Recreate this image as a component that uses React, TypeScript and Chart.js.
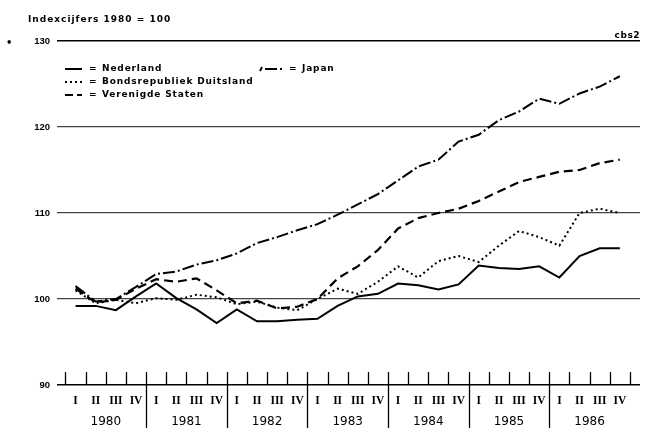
import React, { useEffect, useRef } from "react";
import { Chart, registerables } from "chart.js";

Chart.register(...registerables);

const quarterLabels = ["I", "II", "III", "IV"];
const yearLabels = ["1980", "1981", "1982", "1983", "1984", "1985", "1986"];
const yTickValues = [90, 100, 110, 120, 130];

const nederland = [
  99.2, 99.2, 98.7, 100.3,
  101.8, 100.1, 98.8, 97.2,
  98.8, 97.4, 97.4, 97.6,
  97.7, 99.2, 100.3, 100.6,
  101.8, 101.6, 101.1, 101.7,
  103.9, 103.6, 103.5, 103.8,
  102.5, 105.0, 105.9, 105.9,
];
const japan = [
  101.5, 99.7, 100.0, 101.4,
  102.9, 103.2, 104.0, 104.5,
  105.3, 106.5, 107.2, 108.0,
  108.7, 109.8, 111.0, 112.2,
  113.8, 115.4, 116.2, 118.3,
  119.1, 120.8, 121.8, 123.3,
  122.7, 123.9, 124.7, 125.9,
];
const duitsland = [
  101.0, 99.5, 99.9, 99.5,
  100.1, 99.9, 100.5, 100.2,
  99.4, 99.7, 99.0, 98.7,
  100.0, 101.2, 100.6, 102.0,
  103.8, 102.5, 104.4, 105.0,
  104.3, 106.2, 107.9, 107.2,
  106.2, 110.0, 110.5, 110.0,
];
const verenigdeStaten = [
  101.2, 99.6, 99.9, 101.2,
  102.3, 102.0, 102.4, 101.0,
  99.5, 99.8, 98.9, 99.1,
  100.0, 102.4, 103.8, 105.7,
  108.2, 109.4, 110.0, 110.5,
  111.4, 112.5, 113.6, 114.2,
  114.8, 115.0, 115.8, 116.2,
];

const seriesNames = ["Nederland", "Japan", "Bondsrepubliek Duitsland", "Verenigde Staten"];

const toPoints = (arr: number[]) => arr.map((v, i) => ({ x: i, y: v }));

export default function App() {
  const ref = useRef<HTMLCanvasElement>(null);

  useEffect(() => {
    const canvas = ref.current;
    if (!canvas) return;

    const decor = {
      id: "decor",
      afterDraw(chart: any) {
        const ctx = chart.ctx as any;
        const xs = chart.scales.x;
        const ys = chart.scales.y;
        const yA = ys.getPixelForValue(90);
        ctx.save();
        ctx.strokeStyle = "#000";
        ctx.fillStyle = "#000";
        ctx.lineWidth = 1.3;
        // quarter ticks and year separators
        for (let j = 0; j <= 28; j++) {
          const px = Math.round(xs.getPixelForValue(j - 0.5)) + 0.5;
          const sep = j % 4 === 0 && j > 0 && j < 28;
          ctx.beginPath();
          ctx.moveTo(px, yA - 13);
          ctx.lineTo(px, sep ? 430 : yA);
          ctx.stroke();
        }
        ctx.textAlign = "center";
        ctx.textBaseline = "middle";
        ctx.font = "bold 11.5px 'Liberation Serif'";
        for (let i = 0; i < 28; i++) {
          ctx.fillText(quarterLabels[i % 4], xs.getPixelForValue(i), yA + 16);
        }
        ctx.font = "12px 'DejaVu Sans'";
        yearLabels.forEach((y, k) => {
          ctx.fillText(y, xs.getPixelForValue(4 * k + 1.5), yA + 37);
        });

        // header texts
        ctx.textAlign = "left";
        ctx.textBaseline = "alphabetic";
        ctx.font = "bold 9px 'DejaVu Sans'";
        ctx.letterSpacing = "1px";
        ctx.fillText("Indexcijfers 1980 = 100", 28, 22);
        ctx.textAlign = "right";
        ctx.letterSpacing = "0.5px";
        ctx.fillText("cbs2", 640, 38);
        ctx.letterSpacing = "0px";
        ctx.textAlign = "left";
        ctx.font = "bold 10px 'DejaVu Sans'";
        ctx.fillText("\u2022", 6, 46);

        // legend
        const rows = [
          { x: 65, y: 69, dash: [] as number[], name: seriesNames[0] },
          { x: 65, y: 82, dash: [2, 3], name: seriesNames[2] },
          { x: 65, y: 95, dash: [8, 4], name: seriesNames[3] },
          { x: 265, y: 69, dash: [12, 3, 2, 3], name: seriesNames[1] },
        ];
        ctx.font = "bold 9px 'DejaVu Sans'";
        ctx.textBaseline = "middle";
        rows.forEach((r, idx) => {
          ctx.setLineDash(r.dash);
          ctx.lineWidth = 2;
          ctx.beginPath();
          ctx.moveTo(r.x, r.y);
          ctx.lineTo(r.x + 17, r.y);
          ctx.stroke();
          ctx.setLineDash([]);
          if (idx === 3) {
            ctx.lineWidth = 2;
            ctx.beginPath();
            ctx.moveTo(r.x - 5, r.y + 2);
            ctx.lineTo(r.x - 3, r.y - 2);
            ctx.stroke();
          }
          ctx.letterSpacing = "0px";
          ctx.fillText("=", r.x + 24, r.y);
          ctx.letterSpacing = "0.85px";
          ctx.fillText(r.name, r.x + 37, r.y);
        });
        ctx.letterSpacing = "0px";
        ctx.restore();
      },
    };

    const chart = new Chart(canvas, {
      type: "line",
      data: {
        datasets: [
          {
            label: seriesNames[0],
            data: toPoints(nederland),
            borderColor: "#000",
            borderWidth: 2,
            pointRadius: 0,
            tension: 0,
          },
          {
            label: seriesNames[1],
            data: toPoints(japan),
            borderColor: "#000",
            borderWidth: 2,
            borderDash: [12, 3, 2, 3],
            pointRadius: 0,
            tension: 0,
          },
          {
            label: seriesNames[2],
            data: toPoints(duitsland),
            borderColor: "#000",
            borderWidth: 2,
            borderDash: [2, 3],
            pointRadius: 0,
            tension: 0,
          },
          {
            label: seriesNames[3],
            data: toPoints(verenigdeStaten),
            borderColor: "#000",
            borderWidth: 2.2,
            borderDash: [9, 5],
            pointRadius: 0,
            tension: 0,
          },
        ],
      },
      options: {
        responsive: false,
        animation: false,
        events: [],
        layout: { padding: { left: 0, right: 10, top: 41, bottom: 43 } },
        plugins: { legend: { display: false }, tooltip: { enabled: false } },
        scales: {
          x: { type: "linear", min: -0.92, max: 28.0, display: false },
          y: {
            min: 90,
            max: 130,
            afterFit: (s: any) => {
              s.width = 57;
            },
            afterBuildTicks: (s: any) => {
              s.ticks = yTickValues.map((v) => ({ value: v }));
            },
            border: { display: false },
            grid: {
              drawTicks: false,
              color: (c: any) => (c.tick && (c.tick.value === 130 || c.tick.value === 90) ? "#000" : "#444"),
              lineWidth: (c: any) => (c.tick && (c.tick.value === 130 || c.tick.value === 90) ? 1.6 : 1.2),
            },
            ticks: {
              padding: 7,
              color: "#000",
              font: { family: "'Liberation Sans'", size: 9.5, weight: "bold" },
            },
          },
        },
      },
      plugins: [decor],
    });
    return () => chart.destroy();
  }, []);

  return (
    <div style={{ position: "fixed", left: 0, top: 0, width: 650, height: 428, background: "#fff" }}>
      <canvas ref={ref} width={650} height={428} style={{ width: 650, height: 428, display: "block" }} />
    </div>
  );
}
